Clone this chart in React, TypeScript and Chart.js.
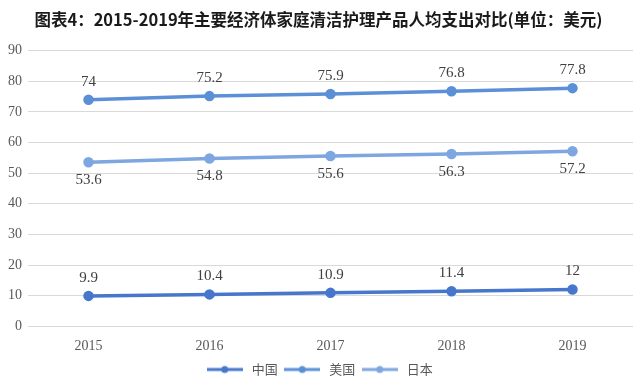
import React, { useEffect, useRef } from "react";
import { Chart, registerables } from "chart.js";

Chart.register(...registerables);

const TITLE = "图表4：2015-2019年主要经济体家庭清洁护理产品人均支出对比(单位：美元)";
const YEARS = ["2015", "2016", "2017", "2018", "2019"];
const CHINA = [9.9, 10.4, 10.9, 11.4, 12];
const USA = [74, 75.2, 75.9, 76.8, 77.8];
const JAPAN = [53.6, 54.8, 55.6, 56.3, 57.2];
const SERIES_NAMES = ["中国", "美国", "日本"];
const LABEL_POS = ["top", "top", "bottom"];
const COLORS = ["#4677cc", "#5b8fd8", "#7ea6e0"];

function legendIcon(color: string) {
  const c = document.createElement("canvas");
  c.width = 36;
  c.height = 10;
  const ctx = c.getContext("2d")!;
  ctx.strokeStyle = color;
  ctx.lineWidth = 3;
  ctx.beginPath();
  ctx.moveTo(0, 5);
  ctx.lineTo(36, 5);
  ctx.stroke();
  ctx.fillStyle = color;
  ctx.beginPath();
  ctx.arc(18, 5, 3.5, 0, Math.PI * 2);
  ctx.fill();
  return c;
}

const labelPlugin = {
  id: "pointLabels",
  afterDatasetsDraw(chart: any) {
    const ctx = chart.ctx;
    ctx.save();
    ctx.font = '15px "Liberation Serif", serif';
    ctx.fillStyle = "#404040";
    ctx.textAlign = "center";
    chart.data.datasets.forEach((ds: any, i: number) => {
      const meta = chart.getDatasetMeta(i);
      meta.data.forEach((pt: any, j: number) => {
        const pos = LABEL_POS[i];
        const y = pos === "top" ? pt.y - 18 : pt.y + 18;
        ctx.textBaseline = "middle";
        ctx.fillText(String(ds.data[j]), pt.x, y);
      });
    });
    ctx.restore();
  },
};

export default function App() {
  const ref = useRef<HTMLCanvasElement>(null);
  useEffect(() => {
    document.body.style.margin = "0";
    const data = [CHINA, USA, JAPAN];
    const chart = new Chart(ref.current!, {
      type: "line",
      data: {
        labels: YEARS,
        datasets: data.map((d, i) => ({
          label: SERIES_NAMES[i],
          data: d,
          borderColor: COLORS[i],
          backgroundColor: COLORS[i],
          borderWidth: 3.5,
          pointRadius: 3.5,
          pointHoverRadius: 3.5,
          pointStyle: "circle",
          fill: false,
          tension: 0,
        })),
      },
      options: {
        responsive: false,
        animation: false,
        layout: { padding: { left: 2, right: 5, top: 0, bottom: 5 } },
        plugins: {
          title: {
            display: true,
            text: TITLE,
            color: "#1a1a1a",
            font: { family: '"Noto Sans CJK SC", sans-serif', size: 16.5, weight: "bold" },
            padding: { top: 10, bottom: 21 },
          },
          legend: {
            position: "bottom",
            labels: {
              color: "#595959",
              font: { family: '"Noto Sans CJK SC", sans-serif', size: 13 },
              usePointStyle: true,
              pointStyleWidth: 41,
              boxHeight: 10,
              padding: 4,
              generateLabels: (ch: any) =>
                ch.data.datasets.map((ds: any, i: number) => ({
                  text: ds.label,
                  pointStyle: legendIcon(COLORS[i]),
                  fillStyle: COLORS[i],
                  strokeStyle: COLORS[i],
                  lineWidth: 0,
                  hidden: false,
                  datasetIndex: i,
                  fontColor: "#595959",
                })),
            },
          },
          tooltip: { enabled: false },
        },
        scales: {
          x: {
            offset: true,
            grid: { display: false },
            border: { display: false },
            ticks: {
              color: "#595959",
              font: { family: '"Liberation Serif", serif', size: 14 },
              padding: 4,
            },
          },
          y: {
            min: 0,
            max: 90,
            grid: { color: "#d9d9d9", lineWidth: 1, drawTicks: false },
            border: { display: false },
            ticks: {
              stepSize: 10,
              color: "#595959",
              font: { family: '"Liberation Serif", serif', size: 14 },
              padding: 6,
            },
          },
        },
      },
      plugins: [labelPlugin],
    });
    return () => chart.destroy();
  }, []);
  return (
    <div style={{ position: "absolute", left: 0, top: 0, width: 640, height: 391, background: "#fff" }}>
      <canvas ref={ref} width={640} height={391} />
    </div>
  );
}
